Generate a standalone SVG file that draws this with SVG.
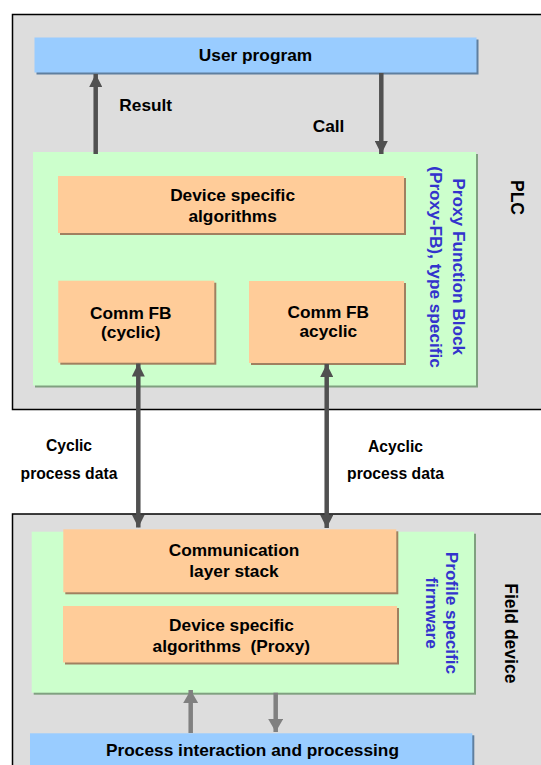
<svg xmlns="http://www.w3.org/2000/svg" width="541" height="765" viewBox="0 0 541 765">
<style>
  .t { font-family: "Liberation Sans", Arial, sans-serif; font-weight: bold; fill: #000; }
  .box { font-size: 17.3px; text-anchor: middle; }
  .lbl { font-size: 15.7px; text-anchor: middle; }
  .vb { font-family: "Liberation Sans", Arial, sans-serif; font-weight: bold; font-size: 17.2px; fill: #3333cc; text-anchor: middle; }
  .vk { font-family: "Liberation Sans", Arial, sans-serif; font-weight: bold; font-size: 17.5px; fill: #000; text-anchor: middle; }
  .area { fill: #dddddd; stroke: #000; stroke-width: 1.5; }
  .blue { fill: #99ccff; }
  .blueS { fill: #5f7f9f; }
  .green { fill: #ccffcc; }
  .greenS { fill: #80a080; }
  .orange { fill: #ffcc99; }
  .orangeS { fill: #a08060; }
  .hl { fill: none; stroke: #ffe6cc; stroke-width: 1; }
  .dk { stroke: #505050; stroke-width: 4.5; fill: none; }
  .lt { stroke: #808080; stroke-width: 4.5; fill: none; }
</style>
<defs>
  <marker id="ahD" viewBox="0 0 14 13" refX="13" refY="6.5" markerWidth="14" markerHeight="13" markerUnits="userSpaceOnUse" orient="auto-start-reverse">
    <path d="M0,0 L13,6.5 L0,13 Z" fill="#505050"/>
  </marker>
  <marker id="ahL" viewBox="0 0 14 15" refX="13" refY="7.5" markerWidth="14" markerHeight="15" markerUnits="userSpaceOnUse" orient="auto-start-reverse">
    <path d="M0,0 L13,7.5 L0,15 Z" fill="#808080"/>
  </marker>
</defs>

<rect width="541" height="765" fill="#ffffff"/>

<g id="plc">
  <rect class="area" x="12.5" y="14.5" width="560" height="395"/>
  <text class="vk" transform="translate(510.5,197.5) rotate(90)">PLC</text>
</g>

<g id="field-device">
  <rect class="area" x="12.5" y="514" width="560" height="300"/>
  <text class="vk" transform="translate(505,633.3) rotate(90)">Field device</text>
</g>

<g id="user-program">
  <rect class="blueS" x="36.5" y="39.5" width="442" height="35"/>
  <rect class="blue" x="34.5" y="37.5" width="442" height="35"/>
  <text class="t box" x="255.5" y="61.2">User program</text>
</g>

<g id="proxy-fb">
  <rect class="greenS" x="35" y="154" width="443" height="233.5"/>
  <rect class="green" x="33" y="152" width="443" height="233.5"/>
  <text class="vb" transform="translate(453.3,266.7) rotate(90)">Proxy Function Block</text>
  <text class="vb" transform="translate(430.3,267) rotate(90)">(Proxy-FB), type specific</text>
</g>

<g id="device-specific-algorithms">
  <rect class="orangeS" x="60" y="178" width="346" height="57"/>
  <rect class="orange" x="58" y="176" width="346" height="57"/>
  <text class="t box" x="232.6" y="201.2">Device specific</text>
  <text class="t box" x="232.6" y="222.2">algorithms</text>
</g>

<g id="comm-fb-cyclic">
  <rect class="orangeS" x="60.3" y="282.7" width="156" height="82"/>
  <rect class="orange" x="58.3" y="280.7" width="156" height="82"/>
  <text class="t box" x="130.8" y="318.6">Comm FB</text>
  <text class="t box" x="130.8" y="337.5">(cyclic)</text>
</g>

<g id="comm-fb-acyclic">
  <rect class="orangeS" x="251" y="283" width="155" height="82"/>
  <rect class="orange" x="249" y="281" width="155" height="82"/>
  <text class="t box" x="328.3" y="318.4">Comm FB</text>
  <text class="t box" x="328.3" y="337.3">acyclic</text>
</g>

<g id="profile-firmware">
  <rect class="greenS" x="33.7" y="533.7" width="442.3" height="161"/>
  <rect class="green" x="31.7" y="531.7" width="442.3" height="161"/>
  <text class="vb" transform="translate(446,613) rotate(90)">Profile specific</text>
  <text class="vb" transform="translate(426,613) rotate(90)">firmware</text>
</g>

<g id="communication-layer-stack">
  <rect class="orangeS" x="65.3" y="531.3" width="333" height="63"/>
  <rect class="orange" x="63.3" y="529.3" width="333" height="63"/>
  <text class="t box" x="234" y="556">Communication</text>
  <text class="t box" x="234" y="576.7">layer stack</text>
</g>

<g id="device-specific-proxy">
  <rect class="orangeS" x="65" y="608" width="334" height="56.5"/>
  <rect class="orange" x="63" y="606" width="334" height="56.5"/>
  <text class="t box" x="231.5" y="631">Device specific</text>
  <text class="t box" x="231.3" y="651.7" style="white-space:pre">algorithms  (Proxy)</text>
</g>

<g id="process-interaction">
  <rect class="blueS" x="32" y="735.3" width="442.3" height="40"/>
  <rect class="blue" x="30" y="733.3" width="442.3" height="40"/>
  <text class="t box" x="252.5" y="755.5">Process interaction and processing</text>
</g>

<g id="connectors">
  <line class="dk" x1="95.7" y1="154" x2="95.7" y2="74" marker-end="url(#ahD)"/>
  <line class="dk" x1="381.3" y1="73" x2="381.3" y2="154" marker-end="url(#ahD)"/>
  <line class="dk" x1="138.3" y1="363.5" x2="138.3" y2="527.5" marker-start="url(#ahD)" marker-end="url(#ahD)"/>
  <line class="dk" x1="326.7" y1="364" x2="326.7" y2="528" marker-start="url(#ahD)" marker-end="url(#ahD)"/>
  <line class="lt" x1="190.7" y1="733" x2="190.7" y2="690" marker-end="url(#ahL)"/>
  <line class="lt" x1="275.7" y1="692.7" x2="275.7" y2="732" marker-end="url(#ahL)"/>
</g>

<g id="labels">
  <text class="t" x="119.3" y="110.7" style="font-size:17.3px">Result</text>
  <text class="t" x="312.7" y="132.3" style="font-size:17.3px">Call</text>
  <text class="t lbl" x="69" y="451">Cyclic</text>
  <text class="t lbl" x="69" y="478.5">process data</text>
  <text class="t lbl" x="395.5" y="451.5">Acyclic</text>
  <text class="t lbl" x="395.5" y="479">process data</text>
</g>
</svg>
